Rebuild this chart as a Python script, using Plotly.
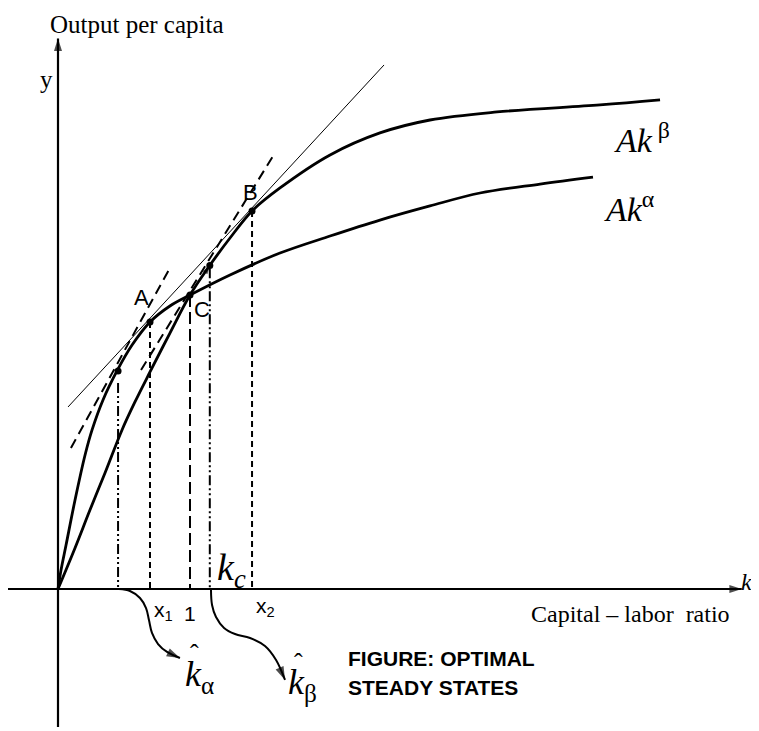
import plotly.graph_objects as go

W, H = 759, 731          # browser window
OFF = 8                  # default page margin of the html body
FW, FH = W - OFF, H - OFF

# ---- data (k measured in units where k = 1 at the crossing point C) ----
k_alpha = [0, 0.023, 0.061, 0.129, 0.205, 0.258, 0.341, 0.447, 0.561, 0.697, 0.848, 1.000,
           1.303, 1.682, 2.061, 2.439, 2.818, 3.197, 3.652, 4.053]
y_alpha = [0, 0.144, 0.333, 0.674, 1.015, 1.205, 1.432, 1.652, 1.848, 2.023, 2.144, 2.227,
           2.379, 2.545, 2.674, 2.795, 2.902, 3.000, 3.068, 3.121]

k_beta = [0, 0.129, 0.242, 0.356, 0.485, 0.583, 0.697, 0.848, 1.000, 1.136, 1.303, 1.470,
          1.682, 2.061, 2.439, 2.818, 3.326, 4.106, 4.561]
y_beta = [0, 0.311, 0.598, 0.879, 1.205, 1.417, 1.644, 1.939, 2.227, 2.432, 2.659, 2.864,
          3.038, 3.288, 3.455, 3.553, 3.614, 3.667, 3.705]

# tangent lines
thin_k = [0.076, 2.470]
thin_y = [1.379, 3.970]
dash1_k = [0.098, 0.848]
dash1_y = [1.068, 2.432]
dash2_k = [0.629, 1.629]
dash2_y = [1.659, 3.280]

# marked points: leftmost, A, C, k_beta-hat point, B
pts_k = [0.455, 0.697, 1.000, 1.150, 1.470]
pts_y = [1.652, 2.023, 2.227, 2.450, 2.864]
drop_top = [1.561, 2.023, 2.227, 2.430, 2.864]
drop_dash = ["10px,3px,2px,3px,2px,3px", "6px,4px", "12px,5px", "10px,3px,2px,3px,2px,3px", "6px,4px"]

# curved pointer arrows
arr_a_k = [0.462, 0.545, 0.621, 0.667, 0.689, 0.712, 0.758, 0.826, 0.924]
arr_a_y = [0, -0.015, -0.068, -0.144, -0.235, -0.333, -0.417, -0.477, -0.523]
arr_b_k = [1.159, 1.167, 1.197, 1.258, 1.341, 1.455, 1.568, 1.652, 1.720]
arr_b_y = [-0.008, -0.121, -0.212, -0.295, -0.341, -0.371, -0.432, -0.538, -0.689]

# small arrow on Ak^beta at the k_beta-hat point
kb_arrow_k = [1.110, 1.150]
kb_arrow_y = [2.390, 2.450]

# axes extents
xaxis_k = [-0.386, 5.18]
yaxis_y = [-1.045, 4.17]

fig = go.Figure()

def line(x, y, width=2.5, dash="solid", shape="linear"):
    fig.add_trace(go.Scatter(x=x, y=y, mode="lines", hoverinfo="skip",
                             line=dict(color="black", width=width, dash=dash, shape=shape)))

def head(x, y, size=13):
    fig.add_trace(go.Scatter(x=x[-2:], y=y[-2:], mode="markers", hoverinfo="skip",
                             marker=dict(symbol="arrow", size=[0, size], angleref="previous",
                                         color="black", line=dict(width=0))))

# axes
line(xaxis_k, [0, 0], width=2.2)
head(xaxis_k, [0, 0])
line([0, 0], yaxis_y, width=2.2)
head([0, 0], yaxis_y)

# curves
line(k_alpha, y_alpha, width=2.8, shape="spline")
line(k_beta, y_beta, width=2.8, shape="spline")

# tangents
line(thin_k, thin_y, width=1)
line(dash1_k, dash1_y, width=2, dash="10px,6px")
line(dash2_k, dash2_y, width=2, dash="10px,6px")

# drop lines
for kx, top, d in zip(pts_k, drop_top, drop_dash):
    line([kx, kx], [top, 0], width=2, dash=d)

# points
fig.add_trace(go.Scatter(x=pts_k, y=pts_y, mode="markers", hoverinfo="skip",
                         marker=dict(color="black", size=7)))
head(kb_arrow_k, kb_arrow_y, 9)

# curved arrows
line(arr_a_k, arr_a_y, width=2, shape="spline")
head(arr_a_k, arr_a_y, 14)
line(arr_b_k, arr_b_y, width=2, shape="spline")
head(arr_b_k, arr_b_y, 14)

SERIF = "Liberation Serif, Times New Roman, serif"
SANS = "Liberation Sans, Arial, sans-serif"

def P(px, py):
    return (px - OFF) / FW, 1 - (py - OFF) / FH

def txt(s, px, py, size, fam=SERIF, xa="center", ya="middle"):
    x, y = P(px, py)
    fig.add_annotation(x=x, y=y, xref="paper", yref="paper", text=s, showarrow=False,
                       xanchor=xa, yanchor=ya, font=dict(family=fam, size=size, color="black"))

txt("Output per capita", 137, 24, 25)
txt("y", 46, 80, 25)
txt("<i>k</i>", 746, 582, 24)
txt("Capital \u2013 labor\u00a0 ratio", 630, 614, 24)
txt("<b>FIGURE: OPTIMAL</b>", 346, 658, 21, SANS, xa="left")
txt("<b>STEADY STATES</b>", 346, 687, 21, SANS, xa="left")
txt("<i>Ak</i><sup>\u00a0\u03b2</sup>", 612, 138, 34, xa="left")
txt("<i>Ak</i><sup>\u03b1</sup>", 602, 207, 34, xa="left")
txt("A", 141, 297, 22, SANS)
txt("C", 202, 309, 22, SANS)
txt("B", 250, 193, 22, SANS)
txt("x<sub>1</sub>", 152, 611, 21, SANS, xa="left")
txt("1", 190, 613, 21, SANS)
txt("x<sub>2</sub>", 254, 607, 21, SANS, xa="left")
txt("<i>k<sub>c</sub></i>", 215, 570, 38, xa="left")
txt("<i>k</i><sub>\u03b1</sub>", 183, 676, 36, xa="left")
txt("\u02c6", 194, 653, 26)
txt("<i>k</i><sub>\u03b2</sub>", 286, 684, 36, xa="left")
txt("\u02c6", 298, 662, 26)

fig.update_layout(
    width=FW, height=FH, margin=dict(l=0, r=0, t=0, b=0),
    paper_bgcolor="white", plot_bgcolor="white", showlegend=False,
    xaxis=dict(range=[(OFF - 58) / 132, (W - 58) / 132], visible=False, fixedrange=True),
    yaxis=dict(range=[(589 - H) / 132, (589 - OFF) / 132], visible=False, fixedrange=True),
)

fig.write_html("out.html")
